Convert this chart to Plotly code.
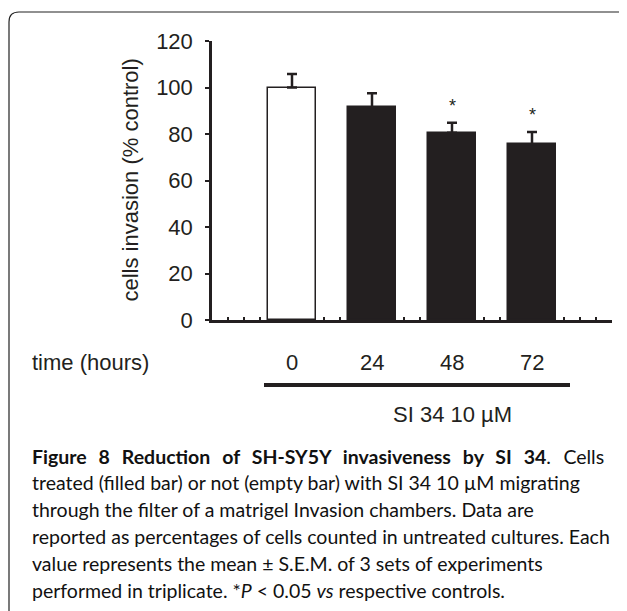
import plotly.graph_objects as go

# ---- data ----
categories = ["0", "24", "48", "72"]          # time (hours)
means = [100.0, 91.5, 80.5, 75.6]             # cells invasion (% control)
sems = [5.8, 6.0, 4.3, 5.3]
significant = [False, False, True, True]
y_ticks = [0, 20, 40, 60, 80, 100, 120]

caption_lines = [
    "<b>Figure 8 Reduction of SH-SY5Y invasiveness by SI 34</b>. Cells",
    "treated (filled bar) or not (empty bar) with SI 34 10 µM migrating",
    "through the filter of a matrigel Invasion chambers. Data are",
    "reported as percentages of cells counted in untreated cultures. Each",
    "value represents the mean ± S.E.M. of 3 sets of experiments",
    "performed in triplicate. *<i>P</i> &lt; 0.05 <i>vs</i> respective controls.",
]

# ---- layout constants (screen pixels; page body has an 8px margin) ----
OFF = 8
W, H = 627 - OFF, 611 - OFF
PX0, PX1 = 212, 612      # plot area left/right on screen
PY0, PY1 = 41, 320       # plot area top/bottom on screen
L, R = PX0 - OFF, W - (PX1 - OFF)
T, B = PY0 - OFF, H - (PY1 - OFF)
PW = PX1 - PX0
PH = PY1 - PY0
INK = "#231f20"
FONT = "Liberation Sans, Arial, sans-serif"
CAP_FONT = "Lato, Open Sans, sans-serif"


def px_x(px):
    return (px - PX0) / PW


def px_y(py):
    return (PY1 - py) / PH


xpos = list(range(1, len(categories) + 1))
fills = ["white" if i == 0 else INK for i in range(len(categories))]

fig = go.Figure()
fig.add_trace(go.Bar(
    x=xpos, y=means, width=0.61,
    marker=dict(color=fills, line=dict(color=INK, width=1.5)),
    error_y=dict(type="data", symmetric=False, array=sems,
                 arrayminus=[0] * len(sems), color=INK, thickness=2.5, width=5),
    showlegend=False, hoverinfo="skip",
))

annotations = []
# significance stars
for x, m, s, sig in zip(xpos, means, sems, significant):
    if sig:
        annotations.append(dict(x=x, y=m + s, xref="x", yref="y", text="*",
                                showarrow=False, yanchor="bottom", yshift=5,
                                font=dict(family=FONT, size=18, color=INK)))
# category labels
for x, c in zip(xpos, categories):
    annotations.append(dict(x=x, y=px_y(362), xref="x", yref="paper", text=c,
                            showarrow=False, xanchor="center", yanchor="middle",
                            font=dict(family=FONT, size=22, color=INK)))
annotations.append(dict(x=px_x(30), y=px_y(362), xref="paper", yref="paper",
                        text="time (hours)", showarrow=False, xanchor="left",
                        yanchor="middle", font=dict(family=FONT, size=22, color=INK)))
annotations.append(dict(x=px_x(452), y=px_y(414), xref="paper", yref="paper",
                        text="SI 34 10 µM", showarrow=False, xanchor="center",
                        yanchor="middle", font=dict(family=FONT, size=22, color=INK)))
annotations.append(dict(x=px_x(130), y=0.5, xref="paper", yref="paper",
                        text="cells invasion (% control)", textangle=-90,
                        showarrow=False, xanchor="center", yanchor="middle",
                        font=dict(family=FONT, size=22, color=INK)))
# caption (first line justified in the original: widen its word gaps)
for i, line in enumerate(caption_lines):
    if i == 0:
        line = line.replace(" ", " &nbsp;\u2009")
    annotations.append(dict(x=px_x(30), y=px_y(456 + 26.8 * i), xref="paper", yref="paper",
                            text=line, showarrow=False, xanchor="left", yanchor="middle",
                            font=dict(family=CAP_FONT, size=19.5, color="#111111")))

r = 10
x0, y0 = px_x(9), px_y(12)
rx, ry = r / PW, r / PH
box_path = (f"M {x0},{px_y(700)} L {x0},{y0 - ry} Q {x0},{y0} {x0 + rx},{y0} "
            f"L {px_x(700)},{y0}")

shapes = [
    dict(type="path", xref="paper", yref="paper", path=box_path,
         line=dict(color="#222222", width=1.2)),
    dict(type="line", xref="paper", yref="paper", x0=px_x(264), x1=px_x(570),
         y0=px_y(385), y1=px_y(385), line=dict(color=INK, width=4)),
]

fig.update_layout(
    width=W, height=H,
    margin=dict(l=L, r=R, t=T, b=B),
    paper_bgcolor="white", plot_bgcolor="white",
    bargap=0,
    xaxis=dict(range=[0, len(categories) + 1], showgrid=False, zeroline=False,
               showline=True, linecolor=INK, linewidth=2.5, layer="below traces",
               tickmode="array", tickvals=[i / 5 for i in range(0, 5 * (len(categories) + 1) + 1)],
               ticks="inside", ticklen=3, tickwidth=1.5, tickcolor=INK,
               showticklabels=False, fixedrange=True),
    yaxis=dict(range=[0, 120], showgrid=False, zeroline=False, showline=True,
               linecolor=INK, linewidth=2.5, tickvals=y_ticks, ticks="outside",
               ticklen=4, tickwidth=2, tickcolor=INK, ticklabelstandoff=8,
               tickfont=dict(family=FONT, size=22, color=INK), fixedrange=True),
    annotations=annotations,
    shapes=shapes,
)

fig.write_html("out.html")
